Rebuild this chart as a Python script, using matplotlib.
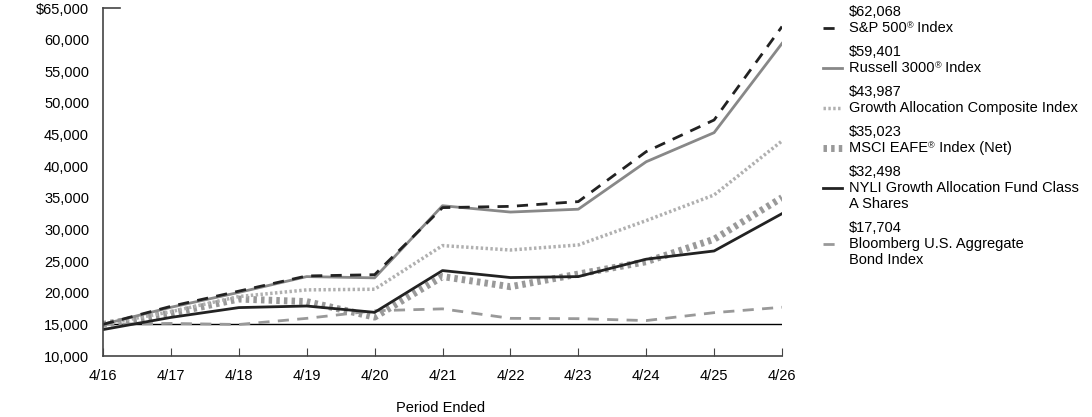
import numpy as np
import matplotlib
matplotlib.use('Agg')
import matplotlib.pyplot as plt
from matplotlib.lines import Line2D

plt.rcParams['font.family'] = ['Liberation Sans', 'DejaVu Sans']

periods = ['4/16', '4/17', '4/18', '4/19', '4/20', '4/21', '4/22', '4/23', '4/24', '4/25', '4/26']

sp500 = [15000, 17850, 20250, 22650, 22850, 33450, 33650, 34400, 42300, 47300, 62068]
russell = [15000, 17700, 20050, 22550, 22350, 33750, 32750, 33200, 40700, 45300, 59401]
growth_comp = [15000, 17000, 19400, 20450, 20550, 27450, 26750, 27550, 31400, 35450, 43987]
msci_eafe = [15000, 16750, 19000, 18600, 16150, 22550, 20950, 22950, 24900, 28450, 35023]
nyli_fund = [14175, 16100, 17650, 17900, 16900, 23500, 22400, 22550, 25300, 26600, 32498]
bloomberg = [15000, 15150, 14980, 15950, 17150, 17450, 15950, 15900, 15600, 16850, 17704]

end_values = ['$62,068', '$59,401', '$43,987', '$35,023', '$32,498', '$17,704']
# '^' marks where a small superscript ® goes
names = [['S&P 500^ Index'], ['Russell 3000^ Index'], ['Growth Allocation Composite Index'],
         ['MSCI EAFE^ Index (Net)'], ['NYLI Growth Allocation Fund Class', 'A Shares'],
         ['Bloomberg U.S. Aggregate', 'Bond Index']]

styles = [
    dict(color='#222222', lw=2, dashes=(4, 3)),
    dict(color='#888888', lw=2),
    dict(color='#b0b0b0', lw=2.5, dashes=(0.7, 0.7)),
    dict(color='#999999', lw=5, dashes=(0.5, 0.6)),
    dict(color='#222222', lw=2),
    dict(color='#999999', lw=2, dashes=(4, 3)),
]
series = [sp500, russell, growth_comp, msci_eafe, nyli_fund, bloomberg]

W, H = 1092.0, 417.0
fig = plt.figure(figsize=(W / 100, H / 100), dpi=100)
ax = fig.add_axes([103 / W, 1 - 356 / H, (782 - 103) / W, 348 / H])

x = np.arange(len(periods))
ax.plot(x, [15000] * len(x), color='black', lw=1)
# lightest lines underneath
for i in [5, 3, 2, 4, 1, 0]:
    ax.plot(x, series[i], **styles[i])

ax.set_xlim(0, len(periods) - 1)
ax.set_ylim(10000, 65000)
ax.set_xticks(x)
ax.set_xticklabels(periods, fontsize=10.5)
yt = np.arange(10000, 65001, 5000)
ax.set_yticks(yt)
ax.set_yticklabels(['{:,}'.format(v) if v < 65000 else '${:,}'.format(v) for v in yt], fontsize=10.5)
ax.tick_params(axis='y', length=0, pad=10)
ax.tick_params(axis='x', direction='in', length=6, color='#444444', pad=9)
for s in ['top', 'right']:
    ax.spines[s].set_visible(False)
for s in ['left', 'bottom']:
    ax.spines[s].set_color('#444444')
    ax.spines[s].set_linewidth(1.2)
ax.axhline(65000, xmin=0, xmax=0.025, color='#444444', lw=1.2, clip_on=False)
fig.text(441 / W, 1 - 408 / H, 'Period Ended', fontsize=10.5, ha='center', va='center')

renderer = fig.canvas.get_renderer()


def put_line(xpx, ypx, s):
    # draw text at baseline ypx (pixels from top), with small superscript ®
    parts = s.split('^')
    cur = xpx
    for k, p in enumerate(parts):
        if p:
            t = fig.text(cur / W, 1 - ypx / H, p, fontsize=10.5, va='baseline', ha='left')
            cur += t.get_window_extent(renderer).width
        if k < len(parts) - 1:
            t = fig.text(cur / W, 1 - (ypx - 4) / H, '®', fontsize=6.5, va='baseline', ha='left')
            cur += t.get_window_extent(renderer).width


# legend on the right
value_y = [12, 52, 92, 132, 172, 228]
step = 15.5
for i in range(6):
    yc = value_y[i]
    put_line(849, yc + 4.5, end_values[i])
    for j, line in enumerate(names[i]):
        put_line(849, yc + step * (j + 1) + 4.5, line)
    ly = 1 - (yc + step) / H
    fig.add_artist(Line2D([823 / W, 842 / W], [ly, ly], transform=fig.transFigure, **styles[i]))

fig.savefig('out.png', dpi=100)
